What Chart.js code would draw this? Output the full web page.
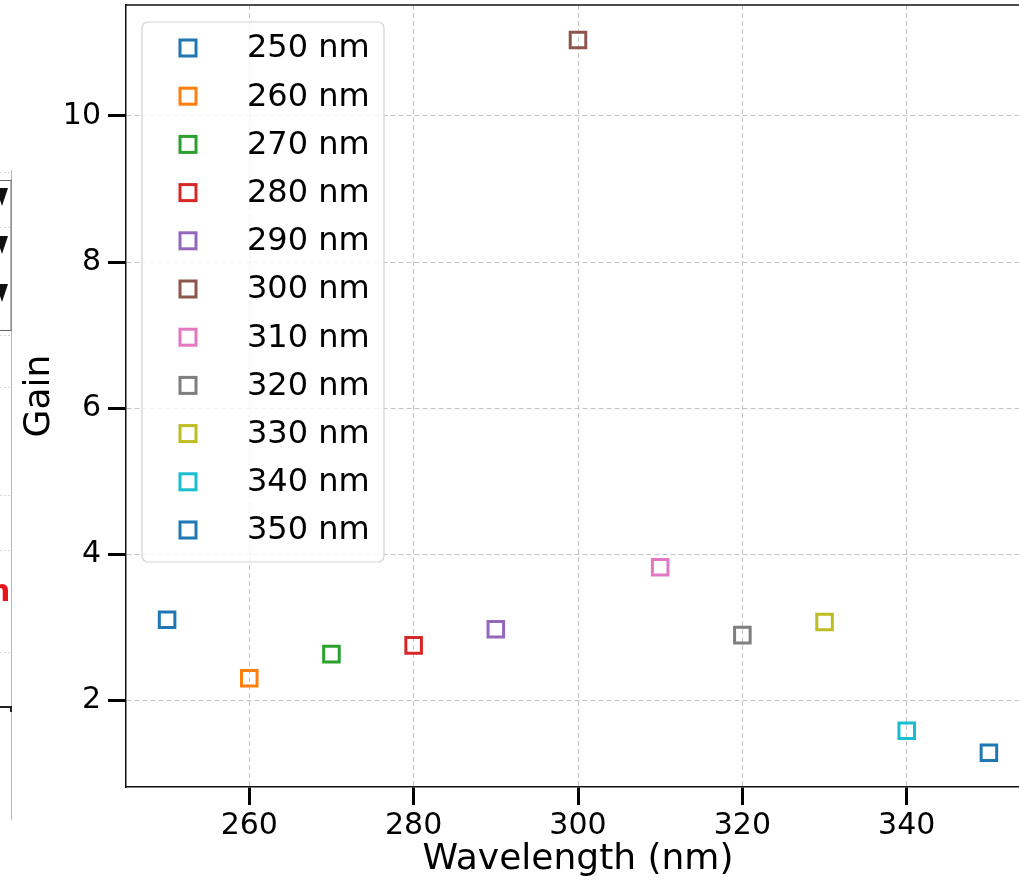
<!DOCTYPE html>
<html>
<head>
<meta charset="utf-8">
<script src="https://cdn.jsdelivr.net/npm/chart.js@4/dist/chart.umd.min.js"></script>
<style>
    html, body { margin: 0; padding: 0; background: #fff; overflow: hidden; }
    #wrap { position: relative; width: 1040px; height: 881px; }
</style>
</head>
<body>
<div id="wrap"><canvas id="gainChart"></canvas></div>
<script>
// Data
const wavelengths = [250, 260, 270, 280, 290, 300, 310, 320, 330, 340, 350];
const gains = [3.10, 2.30, 2.63, 2.75, 2.97, 11.04, 3.82, 2.89, 3.07, 1.58, 1.28];
const seriesLabels = wavelengths.map(w => w + ' nm');
const markerColors = ['#1f77b4', '#ff7f0e', '#2ca02c', '#d62728', '#9467bd', '#8c564b',
                      '#e377c2', '#7f7f7f', '#bcbd22', '#17becf', '#1f77b4'];
const xTicks = [260, 280, 300, 320, 340];
const yTicks = [2, 4, 6, 8, 10];

const FONT = "'DejaVu Sans', sans-serif";

// matplotlib-like legend drawn inside the plot area (upper left)
const boxLegend = {
    id: 'boxLegend',
    afterDatasetsDraw(chart) {
        const ctx = chart.ctx;
        const x0 = 142, y0 = 22, w = 242, h = 540, r = 6;
        ctx.save();
        ctx.beginPath();
        ctx.roundRect(x0, y0, w, h, r);
        ctx.fillStyle = 'rgba(255,255,255,0.8)';
        ctx.fill();
        ctx.lineWidth = 1.2;
        ctx.strokeStyle = '#d3d3d3';
        ctx.stroke();

        ctx.font = '32px ' + FONT;
        ctx.textBaseline = 'middle';
        ctx.fillStyle = '#000';
        chart.data.datasets.forEach((ds, i) => {
            const cy = 48 + i * 48.2;
            ctx.lineWidth = 3;
            ctx.strokeStyle = ds.borderColor;
            ctx.strokeRect(180, cy - 8, 16, 16);
            ctx.fillText(ds.label, 247, cy + 1);
        });
        ctx.restore();
    }
};

// top spine + bits of the neighbouring figure on the left edge
const frame = {
    id: 'frame',
    afterDraw(chart) {
        const ctx = chart.ctx;
        const a = chart.chartArea;
        ctx.save();
        ctx.strokeStyle = '#111';
        ctx.lineWidth = 1.5;
        ctx.beginPath();
        ctx.moveTo(a.left, a.top);
        ctx.lineTo(a.right, a.top);
        ctx.stroke();

        // neighbour panel fragment
        ctx.strokeStyle = '#b8b8b8';
        ctx.lineWidth = 1;
        ctx.beginPath();
        ctx.moveTo(11.5, 170);
        ctx.lineTo(11.5, 820);
        ctx.stroke();
        ctx.setLineDash([2, 2]);
        ctx.strokeStyle = '#d8d8d8';
        [172, 227, 335, 387, 495, 550, 652].forEach(y => {
            ctx.beginPath();
            ctx.moveTo(0, y + 0.5);
            ctx.lineTo(11, y + 0.5);
            ctx.stroke();
        });
        ctx.setLineDash([]);
        ctx.strokeStyle = '#666';
        ctx.strokeRect(-5, 180.5, 16, 150);
        ctx.fillStyle = '#111';
        [197, 245, 293].forEach(y => {
            ctx.beginPath();
            ctx.moveTo(-4, y - 9);
            ctx.lineTo(8, y - 9);
            ctx.lineTo(2, y + 9);
            ctx.closePath();
            ctx.fill();
        });
        ctx.fillStyle = '#e8141c';
        ctx.font = 'bold 30px ' + FONT;
        ctx.textBaseline = 'alphabetic';
        ctx.fillText('n', -11, 601);
        ctx.strokeStyle = '#222';
        ctx.lineWidth = 2;
        ctx.beginPath();
        ctx.moveTo(0, 707);
        ctx.lineTo(11, 707);
        ctx.lineTo(11, 712);
        ctx.stroke();
        ctx.restore();
    }
};

const datasets = wavelengths.map((w, i) => ({
    label: seriesLabels[i],
    data: [{ x: w, y: gains[i] }],
    pointStyle: 'rect',
    pointRadius: 11,
    pointHoverRadius: 11,
    borderWidth: 3,
    borderColor: markerColors[i],
    backgroundColor: 'rgba(255,255,255,0)'
}));

const gridOpts = {
    color: '#c4c4c4',
    lineWidth: 1,
    tickLength: 18,
    tickWidth: 3,
    tickColor: '#000'
};

new Chart(document.getElementById('gainChart'), {
    type: 'scatter',
    data: { datasets },
    options: {
        responsive: true,
        maintainAspectRatio: false,
        animation: false,
        layout: { autoPadding: false, padding: { top: 5, left: 0, right: 10, bottom: 0 } },
        plugins: {
            legend: { display: false },
            tooltip: { enabled: false }
        },
        scales: {
            x: {
                type: 'linear',
                min: 245,
                max: 355,
                bounds: 'data',
                afterBuildTicks: s => { s.ticks = xTicks.map(v => ({ value: v })); },
                afterFit: s => { s.height = 94; s.paddingLeft = 0; s.paddingRight = 0; },
                ticks: {
                    includeBounds: false,
                    color: '#000',
                    font: { family: FONT, size: 30 },
                    padding: 3,
                    maxRotation: 0
                },
                grid: gridOpts,
                border: { display: true, color: '#111', width: 1.5, dash: [5, 3] },
                title: {
                    display: true,
                    text: 'Wavelength (nm)',
                    color: '#000',
                    font: { family: FONT, size: 36 },
                    padding: { top: 0, bottom: 0 }
                }
            },
            y: {
                type: 'linear',
                min: 0.81,
                max: 11.52,
                bounds: 'data',
                afterBuildTicks: s => { s.ticks = yTicks.map(v => ({ value: v })); },
                afterFit: s => { s.width = 126; s.paddingTop = 0; s.paddingBottom = 0; },
                ticks: {
                    includeBounds: false,
                    color: '#000',
                    font: { family: FONT, size: 30 },
                    padding: 7
                },
                grid: gridOpts,
                border: { display: true, color: '#111', width: 1.5, dash: [5, 3] },
                title: {
                    display: true,
                    text: 'Gain',
                    color: '#000',
                    font: { family: FONT, size: 36 },
                    padding: { top: 18, bottom: 0 }
                }
            }
        }
    },
    plugins: [boxLegend, frame]
});
</script>
</body>
</html>
